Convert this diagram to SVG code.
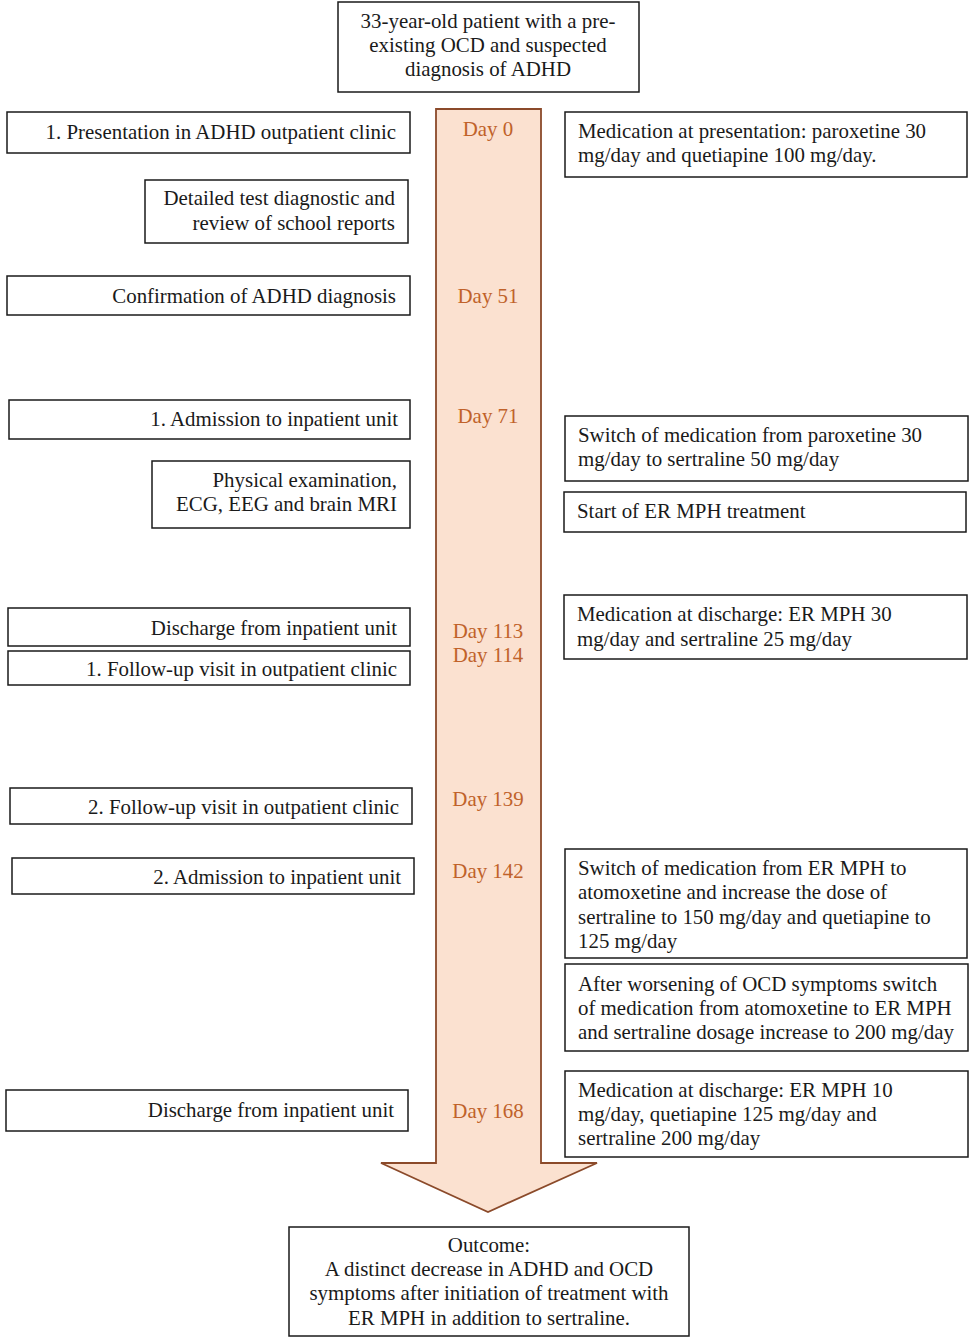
<svg xmlns="http://www.w3.org/2000/svg" width="970" height="1339" viewBox="0 0 970 1339">
<style>
.b{fill:#fff;stroke:#1a1a1a;stroke-width:1.5}
.t{font-family:"Liberation Serif","Times New Roman",serif;font-size:20.9px;fill:#1a1a1a}
.r{text-anchor:end}
.c{text-anchor:middle}
.d{font-family:"Liberation Serif","Times New Roman",serif;font-size:20.9px;fill:#C0622A;text-anchor:middle}
</style>
<rect width="970" height="1339" fill="#fff"/>
<g id="connectors">
<path d="M436,109 H541 V1163 H597 L488,1212 L381,1163 H436 Z" fill="#FBE1D0" stroke="#8B4A2A" stroke-width="1.8"/>
</g>
<g id="days">
<text class="d" x="488" y="136">Day 0</text>
<text class="d" x="488" y="303">Day 51</text>
<text class="d" x="488" y="423">Day 71</text>
<text class="d" x="488" y="638">Day 113</text>
<text class="d" x="488" y="662">Day 114</text>
<text class="d" x="488" y="806">Day 139</text>
<text class="d" x="488" y="878">Day 142</text>
<text class="d" x="488" y="1118">Day 168</text>
</g>
<g id="start"><rect class="b" x="338" y="2" width="301" height="90"/>
<text class="t c" x="488" y="28">33-year-old patient with a pre-</text>
<text class="t c" x="488" y="52">existing OCD and suspected</text>
<text class="t c" x="488" y="76">diagnosis of ADHD</text></g>
<g id="presentation"><rect class="b" x="7" y="112" width="403" height="41"/>
<text class="t r" x="396" y="139">1. Presentation in ADHD outpatient clinic</text></g>
<g id="detailed"><rect class="b" x="145" y="180" width="263" height="63"/>
<text class="t r" x="395" y="205">Detailed test diagnostic and</text>
<text class="t r" x="395" y="230">review of school reports</text></g>
<g id="confirmation"><rect class="b" x="7" y="276" width="403" height="39"/>
<text class="t r" x="396" y="303">Confirmation of ADHD diagnosis</text></g>
<g id="admission1"><rect class="b" x="9" y="400" width="401" height="39"/>
<text class="t r" x="398" y="426">1. Admission to inpatient unit</text></g>
<g id="physical"><rect class="b" x="152" y="461" width="258" height="67"/>
<text class="t r" x="397" y="487">Physical examination,</text>
<text class="t r" x="397" y="511">ECG, EEG and brain MRI</text></g>
<g id="discharge1"><rect class="b" x="8" y="608" width="402" height="38"/>
<text class="t r" x="397" y="635">Discharge from inpatient unit</text></g>
<g id="followup1"><rect class="b" x="8" y="651" width="402" height="34"/>
<text class="t r" x="397" y="676">1. Follow-up visit in outpatient clinic</text></g>
<g id="followup2"><rect class="b" x="10" y="788" width="402" height="36"/>
<text class="t r" x="399" y="814">2. Follow-up visit in outpatient clinic</text></g>
<g id="admission2"><rect class="b" x="12" y="858" width="402" height="36"/>
<text class="t r" x="401" y="884">2. Admission to inpatient unit</text></g>
<g id="discharge2"><rect class="b" x="6" y="1090" width="402" height="41"/>
<text class="t r" x="394" y="1117">Discharge from inpatient unit</text></g>
<g id="med-presentation"><rect class="b" x="565" y="112" width="402" height="65"/>
<text class="t" x="578" y="138">Medication at presentation: paroxetine 30</text>
<text class="t" x="578" y="162">mg/day and quetiapine 100 mg/day.</text></g>
<g id="switch1"><rect class="b" x="565" y="416" width="403" height="65"/>
<text class="t" x="578" y="442">Switch of medication from paroxetine 30</text>
<text class="t" x="578" y="466">mg/day to sertraline 50 mg/day</text></g>
<g id="start-er"><rect class="b" x="564" y="492" width="402" height="40"/>
<text class="t" x="577" y="518">Start of ER MPH treatment</text></g>
<g id="med-discharge1"><rect class="b" x="564" y="595" width="403" height="64"/>
<text class="t" x="577" y="621">Medication at discharge: ER MPH 30</text>
<text class="t" x="577" y="646">mg/day and sertraline 25 mg/day</text></g>
<g id="switch2"><rect class="b" x="565" y="849" width="402" height="109"/>
<text class="t" x="578" y="875">Switch of medication from ER MPH to</text>
<text class="t" x="578" y="899">atomoxetine and increase the dose of</text>
<text class="t" x="578" y="924">sertraline to 150 mg/day and quetiapine to</text>
<text class="t" x="578" y="948">125 mg/day</text></g>
<g id="worsening"><rect class="b" x="565" y="964" width="403" height="87"/>
<text class="t" x="578" y="991">After worsening of OCD symptoms switch</text>
<text class="t" x="578" y="1015">of medication from atomoxetine to ER MPH</text>
<text class="t" x="578" y="1039">and sertraline dosage increase to 200 mg/day</text></g>
<g id="med-discharge2"><rect class="b" x="565" y="1071" width="403" height="86"/>
<text class="t" x="578" y="1097">Medication at discharge: ER MPH 10</text>
<text class="t" x="578" y="1121">mg/day, quetiapine 125 mg/day and</text>
<text class="t" x="578" y="1145">sertraline 200 mg/day</text></g>
<g id="outcome"><rect class="b" x="289" y="1227" width="400" height="109"/>
<text class="t c" x="489" y="1252">Outcome:</text>
<text class="t c" x="489" y="1276">A distinct decrease in ADHD and OCD</text>
<text class="t c" x="489" y="1300">symptoms after initiation of treatment with</text>
<text class="t c" x="489" y="1325">ER MPH in addition to sertraline.</text></g>
</svg>
